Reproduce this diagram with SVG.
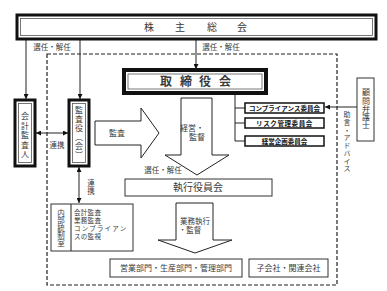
<svg xmlns="http://www.w3.org/2000/svg" width="387" height="291" viewBox="0 0 387 291">
<defs>
<marker id="ah" viewBox="0 0 6 6" refX="6" refY="3" markerWidth="5" markerHeight="5" orient="auto-start-reverse" markerUnits="userSpaceOnUse">
<path d="M0,0 L6,3 L0,6 Z" fill="#111"/>
</marker>
<style>
text{font-family:"Noto Sans CJK JP","Noto Sans",sans-serif;fill:#3a3a3a}
.outer{fill:#fff;stroke:#111;stroke-width:3}
.inner{fill:none;stroke:#555;stroke-width:0.8}
.box{fill:#fff;stroke:#333;stroke-width:1}
.cbox{fill:#fff;stroke:#111;stroke-width:1.5}
.blk{fill:#fff;stroke:#222;stroke-width:1}
.ln{fill:none;stroke:#222;stroke-width:1}
.lbl{font-size:7.5px}
.vt{writing-mode:vertical-rl;text-anchor:middle}
.cm{font-size:6.5px;font-weight:bold;text-anchor:middle;fill:#111}
.cell{font-size:6.5px}
</style>
</defs>
<rect x="47" y="54" width="290" height="231" fill="none" stroke="#222" stroke-width="1.2" stroke-dasharray="4 2"/>
<g id="connectors">
<line class="ln" x1="26" y1="40" x2="26" y2="99" marker-end="url(#ah)"/>
<line class="ln" x1="80" y1="40" x2="80" y2="99" marker-end="url(#ah)"/>
<line class="ln" x1="196" y1="40" x2="196" y2="69" marker-end="url(#ah)"/>
<line class="ln" x1="36" y1="133" x2="68" y2="133" marker-start="url(#ah)" marker-end="url(#ah)"/>
<line class="ln" x1="79" y1="167" x2="79" y2="203" marker-start="url(#ah)" marker-end="url(#ah)"/>
<polyline class="ln" points="235,94 235,141"/>
<line class="ln" x1="235" y1="108" x2="245" y2="108"/>
<line class="ln" x1="235" y1="123" x2="245" y2="123"/>
<line class="ln" x1="235" y1="141" x2="245" y2="141"/>
<line class="ln" x1="357" y1="107" x2="325" y2="107" marker-end="url(#ah)"/>
<polygon class="blk" points="95,121 141,121 141,108 159,133 141,158 141,145 95,145"/>
<polygon class="blk" points="181,98 212,98 212,155 229,155 197,175 165,155 181,155"/>
<polygon class="blk" points="176,203 213,203 213,240 232,240 195,253 158,240 176,240"/>
<text class="lbl" x="52" y="50" text-anchor="middle">選任・解任</text>
<text class="lbl" x="221" y="50" text-anchor="middle">選任・解任</text>
<text class="lbl" x="57" y="148" text-anchor="middle">連携</text>
<text class="lbl vt" x="91" y="187">連携</text>
<text x="117" y="136" font-size="8" text-anchor="middle">監査</text>
<text x="192" y="131" font-size="8" text-anchor="middle">経営・</text>
<text x="197" y="140" font-size="8" text-anchor="middle">監督</text>
<text class="lbl" x="163" y="173" text-anchor="middle">選任・解任</text>
<text x="195" y="224" font-size="7.5" text-anchor="middle">業務執行</text>
<text x="190" y="233" font-size="7.5" text-anchor="middle">・監督</text>
<text class="vt" x="347" y="142" font-size="7" letter-spacing="0.7">助言・アドバイス</text>
</g>
<g id="kabunushi">
<rect class="outer" x="17" y="15" width="359" height="24"/>
<rect class="inner" x="20.5" y="18.5" width="352" height="17"/>
<text x="149" y="31" font-size="10" text-anchor="middle">株</text>
<text x="180" y="31" font-size="10" text-anchor="middle">主</text>
<text x="212" y="31" font-size="10" text-anchor="middle">総</text>
<text x="242" y="31" font-size="10" text-anchor="middle">会</text>
</g>
<g id="torishimariyaku">
<rect x="124" y="70" width="142" height="23" fill="#fff" stroke="#111" stroke-width="4"/>
<rect class="inner" x="128" y="74" width="134" height="15"/>
<text x="166" y="86" font-size="12" font-weight="bold" text-anchor="middle" fill="#111">取</text>
<text x="186" y="86" font-size="12" font-weight="bold" text-anchor="middle" fill="#111">締</text>
<text x="205" y="86" font-size="12" font-weight="bold" text-anchor="middle" fill="#111">役</text>
<text x="225" y="86" font-size="12" font-weight="bold" text-anchor="middle" fill="#111">会</text>
</g>
<g id="kaikei">
<rect class="outer" x="15" y="100" width="20" height="66"/>
<rect class="inner" x="18.5" y="103.5" width="13" height="59"/>
<text class="vt" x="25" y="136" font-size="8" letter-spacing="1.5">会計監査人</text>
</g>
<g id="kansayaku">
<rect class="outer" x="69" y="100" width="20" height="66"/>
<rect class="inner" x="72.5" y="103.5" width="13" height="59"/>
<text class="vt" x="79" y="133" font-size="8" letter-spacing="1">監査役（会）</text>
</g>
<g id="compliance">
<rect class="cbox" x="245" y="103" width="79" height="10"/>
<text class="cm" x="284.5" y="110.5">コンプライアンス委員会</text>
</g>
<g id="risk">
<rect class="cbox" x="245" y="118" width="79" height="10"/>
<text class="cm" x="284.5" y="125.5" letter-spacing="0.6">リスク管理委員会</text>
</g>
<g id="keieikikaku">
<rect class="cbox" x="245" y="136" width="79" height="10"/>
<text class="cm" x="284.5" y="143.5">経営企画委員会</text>
</g>
<g id="komon">
<rect class="box" x="357" y="78" width="17" height="63"/>
<text class="vt" x="366" y="109" font-size="8" letter-spacing="0.3">顧問弁護士</text>
</g>
<g id="shikko">
<rect class="box" x="125" y="179" width="147" height="17"/>
<text x="198" y="191" font-size="10" text-anchor="middle">執行役員会</text>
</g>
<g id="naibu">
<rect class="box" x="51" y="204" width="82" height="47"/>
<line class="ln" x1="71" y1="204" x2="71" y2="251"/>
<text class="vt" x="61" y="228" font-size="7.5">内部統制室</text>
<text class="cell" x="74" y="214.5" letter-spacing="0.3">会計監査</text>
<text class="cell" x="74" y="222.8" letter-spacing="0.3">業務監査</text>
<text class="cell" x="74" y="231.1" letter-spacing="1.2">コンプライアン</text>
<text class="cell" x="74" y="239.4" letter-spacing="0.3">スの監視</text>
</g>
<g id="bumon">
<rect class="box" x="110" y="259" width="132" height="18"/>
<text x="176" y="271" font-size="8" text-anchor="middle">営業部門・生産部門・管理部門</text>
</g>
<g id="kogaisha">
<rect class="box" x="249" y="259" width="79" height="18"/>
<text x="288.5" y="271" font-size="8" text-anchor="middle">子会社・関連会社</text>
</g>
</svg>
